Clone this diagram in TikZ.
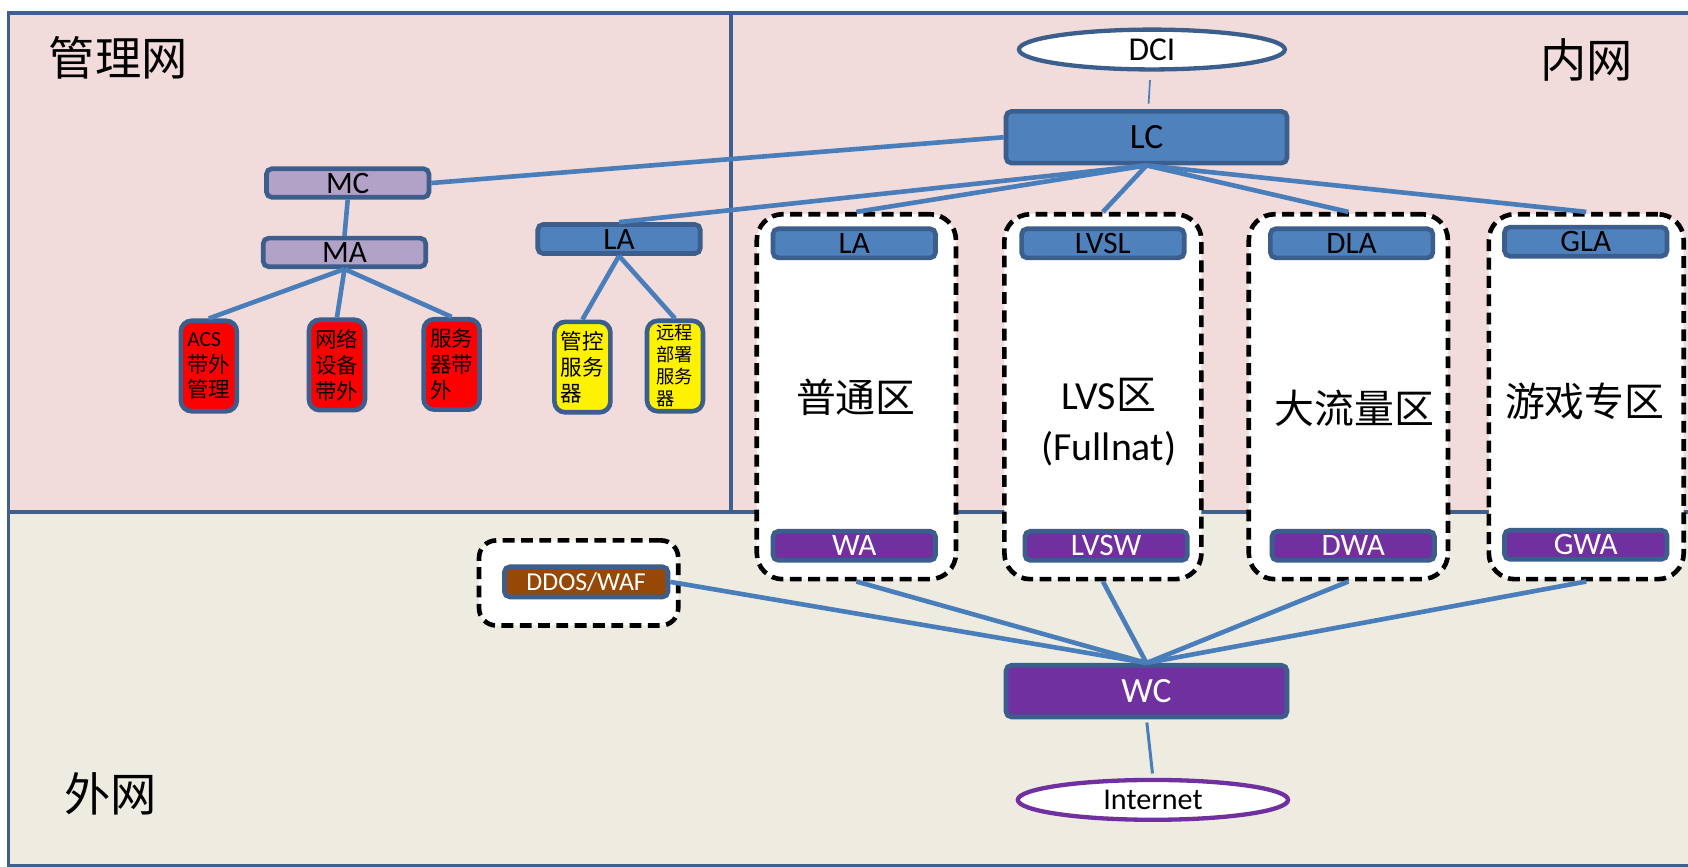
\documentclass[tikz,border=0pt]{standalone}
\usepackage{fontspec}
\setmainfont{Carlito}
\newfontfamily\cjk{Noto Sans CJK SC}
\usetikzlibrary{shapes.geometric}

\definecolor{mgmtbg}{HTML}{F2DCDB}
\definecolor{extbg}{HTML}{EEECE1}
\definecolor{framec}{HTML}{3F5F8C}
\definecolor{edgec}{HTML}{3B5E8C}
\definecolor{linkc}{HTML}{4A7EBB}
\definecolor{blueN}{HTML}{4F81BD}
\definecolor{lilac}{HTML}{B3A2C7}
\definecolor{purpleN}{HTML}{7030A0}
\definecolor{brownN}{HTML}{974806}

\begin{document}
\begin{tikzpicture}[x=1pt,y=-1pt,
  link/.style={draw=linkc, line width=4.3pt},
  thinlink/.style={draw=linkc, line width=1.6pt},
  box/.style={draw=edgec, line width=4.3pt, rounded corners=5pt, inner sep=0pt,
    font=\fontsize{29}{31}\selectfont},
  bluebox/.style={box, fill=blueN, minimum width=151pt, minimum height=27pt},
  lilacbox/.style={box, fill=lilac, minimum width=151pt, minimum height=26.5pt},
  purplebox/.style={box, fill=purpleN, text=white, minimum width=151pt, minimum height=27pt},
  bigbox/.style={box, minimum width=261pt, minimum height=48pt, font=\fontsize{33}{35}\selectfont},
  tallbox/.style={box, rounded corners=10pt, minimum width=52pt, minimum height=84pt,
    align=left, font=\fontsize{20}{24}\selectfont},
  redbox/.style={tallbox, fill=red},
  yellowbox/.style={tallbox, fill=yellow},
  zonebox/.style={draw=black, fill=white, line width=4.3pt, dash pattern=on 11pt off 6pt,
    rounded corners=24pt, inner sep=0pt, minimum height=339pt},
  cloud/.style={ellipse, fill=white, line width=4pt, inner sep=0pt},
  region/.style={font=\cjk\fontsize{43}{43}\selectfont},
  zonelabel/.style={font=\cjk\fontsize{37}{37}\selectfont}
]
\useasboundingbox (0,0) rectangle (1568,805);

% network areas
\fill[mgmtbg] (8,12) rectangle (1590,475.5);
\fill[extbg] (8,475.5) rectangle (1590,804);
\draw[framec, line width=3.3pt] (8,12) rectangle (1590,804);
\draw[framec, line width=3.3pt] (8,475.5) -- (1590,475.5);
\draw[framec, line width=3.3pt] (679,12) -- (679,475.5);

\node[region] (mgmt) at (110,54) {管理网};
\node[region] (intra) at (1474,56) {内网};
\node[region] (extra) at (103,737) {外网};

% core
\node[cloud, draw=edgec, minimum width=247pt, minimum height=37pt,
  font=\fontsize{31}{33}\selectfont] (dci) at (1070,46) {DCI};
\node[bigbox, fill=blueN] (lc) at (1065,127.5) {LC};
\node[bigbox, fill=purpleN, text=white] (wc) at (1065,642) {WC};
\node[cloud, draw=purpleN, minimum width=251pt, minimum height=37pt,
  font=\fontsize{28}{30}\selectfont] (inet) at (1071,743) {Internet};

% management network
\node[lilacbox] (mc) at (323,170) {MC};
\node[lilacbox] (ma) at (320,234.5) {MA};
\node[bluebox] (la) at (575,222) {LA};
\node[redbox] (acs) at (194,340) {ACS\\{\cjk 带外}\\{\cjk 管理}};
\node[redbox] (nde) at (313,339) {{\cjk 网络}\\{\cjk 设备}\\{\cjk 带外}};
\node[redbox] (srv) at (419.5,338.5) {{\cjk 服务}\\{\cjk 器带}\\{\cjk 外}};
\node[yellowbox] (ctl) at (541,341) {{\cjk 管控}\\{\cjk 服务}\\{\cjk 器}};
\node[yellowbox, font=\fontsize{17}{20.5}\selectfont] (rds) at (627,340)
  {{\cjk 远程}\\{\cjk 部署}\\{\cjk 服务}\\{\cjk 器}};

% zones
\node[zonebox, minimum width=185pt] (z1) at (795.5,368.5) {};
\node[zonebox, minimum width=183pt] (z2) at (1024.5,368.5) {};
\node[zonebox, minimum width=185pt] (z3) at (1252.5,368.5) {};
\node[zonebox, minimum width=181pt] (z4) at (1473.5,368.5) {};

\node[bluebox] (la1) at (793.5,226) {LA};
\node[bluebox] (lvsl) at (1024.5,226) {LVSL};
\node[bluebox] (dla) at (1255.5,226) {DLA};
\node[bluebox] (gla) at (1473,224.5) {GLA};

\node[purplebox] (wa) at (793.5,507) {WA};
\node[purplebox] (lvsw) at (1027.5,507) {LVSW};
\node[purplebox] (dwa) at (1257,507) {DWA};
\node[purplebox] (gwa) at (1473,506) {GWA};

\node[zonelabel] (t1) at (795,369) {普通区};
\node[align=center, font=\fontsize{37}{48}\selectfont] (t2) at (1030,392)
  {LVS{\cjk 区}\\(Fullnat)};
\node[zonelabel] (t3) at (1258,379) {大流量区};
\node[zonelabel] (t4) at (1472,373) {游戏专区};

% protection
\node[zonebox, minimum width=185pt, minimum height=79pt, rounded corners=16pt] (dz) at (537.5,541.5) {};
\node[box, fill=brownN, text=white, minimum width=152pt, minimum height=28pt,
  font=\fontsize{24}{26}\selectfont] (ddos) at (544.5,540.5) {DDOS/WAF};

% links
\draw[thinlink, shorten <=8pt, shorten >=5pt] (dci) -- (lc);
\draw[link] (mc.east) -- (lc.west);
\draw[link] (lc.south) -- (la.north);
\draw[link] (lc.south) -- (z1.north);
\draw[link] (lc.south) -- (z2.north);
\draw[link] (lc.south) -- (z3.north);
\draw[link] (lc.south) -- (z4.north);
\draw[link] (mc.south) -- (ma.north);
\draw[link] (ma.south) -- (acs.north);
\draw[link] (ma.south) -- (nde.north);
\draw[link] (ma.south) -- (srv.north);
\draw[link] (la.south) -- (ctl.north);
\draw[link] (la.south) -- (rds.north);
\draw[link] (ddos.east) -- (wc.north);
\draw[link] (z1.south) -- (wc.north);
\draw[link] (z2.south) -- (wc.north);
\draw[link] (z3.south) -- (wc.north);
\draw[link] (z4.south) -- (wc.north);
\draw[link, line width=2.8pt, shorten <=3pt, shorten >=4pt] (wc.south) -- (inet.north);
\end{tikzpicture}
\end{document}
